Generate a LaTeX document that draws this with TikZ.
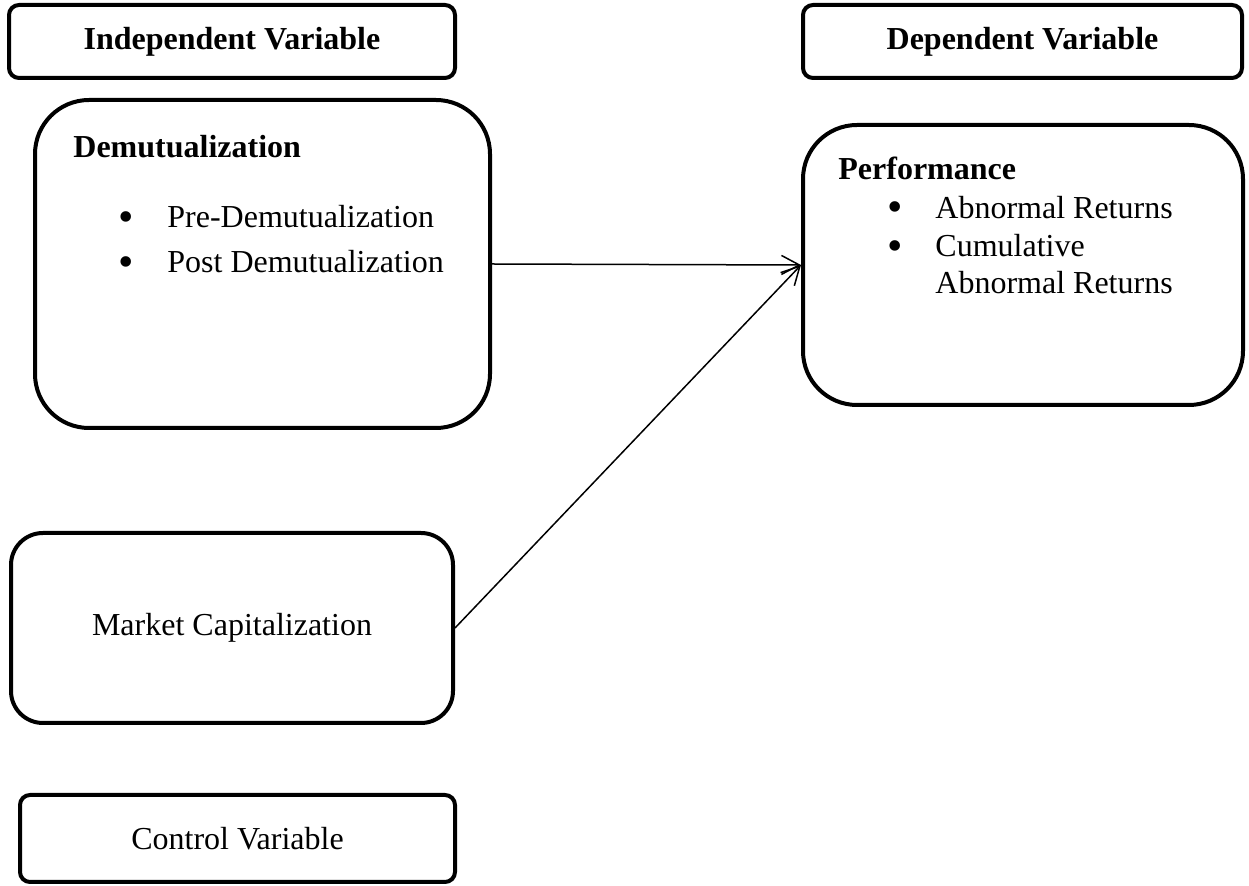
\documentclass[tikz,border=0pt]{standalone}
\usepackage{fontspec}
\setmainfont{Liberation Serif}
\usetikzlibrary{arrows.meta}

\begin{document}
\begin{tikzpicture}[x=0.5pt,y=-0.5pt,font=\fontsize{16}{19}\selectfont]
  \tikzstyle{box}=[rectangle, draw, line width=2pt, inner sep=0pt]
  \tikzstyle{txt}=[inner sep=0pt, anchor=base west]
  \tikzstyle{dot}=[inner sep=0pt, anchor=base west, text height=7pt, text depth=0pt, font=\fontsize{22}{22}\selectfont]
  \tikzstyle{link}=[line width=0.75pt, -{Straight Barb[length=9pt,width=9.5pt]}]
  \useasboundingbox (0,0) rectangle (1249,886);
  % header boxes
  \node[box, rounded corners=5pt, minimum width=223pt, minimum height=36.5pt] (Indep) at (232,41.5) {\textbf{Independent Variable}};
  \node[box, rounded corners=5pt, minimum width=219.5pt, minimum height=36.5pt] (Dep) at (1022.5,41.5) {\textbf{Dependent Variable}};
  % variable boxes
  \node[box, rounded corners=27pt, minimum width=227.5pt, minimum height=164pt] (Demut) at (262.5,264) {};
  \node[box, rounded corners=27pt, minimum width=220pt, minimum height=140pt] (Perf) at (1023,265) {};
  \node[box, rounded corners=16pt, minimum width=221pt, minimum height=95pt] (Market) at (232,628) {Market Capitalization};
  \node[box, rounded corners=5pt, minimum width=217.5pt, minimum height=43.5pt] (Control) at (237.5,838.5) {Control Variable};
  % box contents
  \node[txt] (Demut_t) at (73,158) {\textbf{Demutualization}};
  \node[dot] (Demut_b1) at (118,232) {\textbullet};
  \node[txt] (Demut_l1) at (167,228) {Pre-Demutualization};
  \node[dot] (Demut_b2) at (118,277) {\textbullet};
  \node[txt] (Demut_l2) at (167,273) {Post Demutualization};
  \node[txt] (Perf_t) at (838,180) {\textbf{Performance}};
  \node[dot] (Perf_b1) at (887,222) {\textbullet};
  \node[txt] (Perf_l1) at (935,219) {Abnormal Returns};
  \node[dot] (Perf_b2) at (887,261) {\textbullet};
  \node[txt] (Perf_l2) at (935,257) {Cumulative};
  \node[txt] (Perf_l3) at (935,294) {Abnormal Returns};
  % connectors
  \draw[link] (Demut.east) -- (Perf.west);
  \draw[link] (Market.east) -- (Perf.west);
\end{tikzpicture}
\end{document}
